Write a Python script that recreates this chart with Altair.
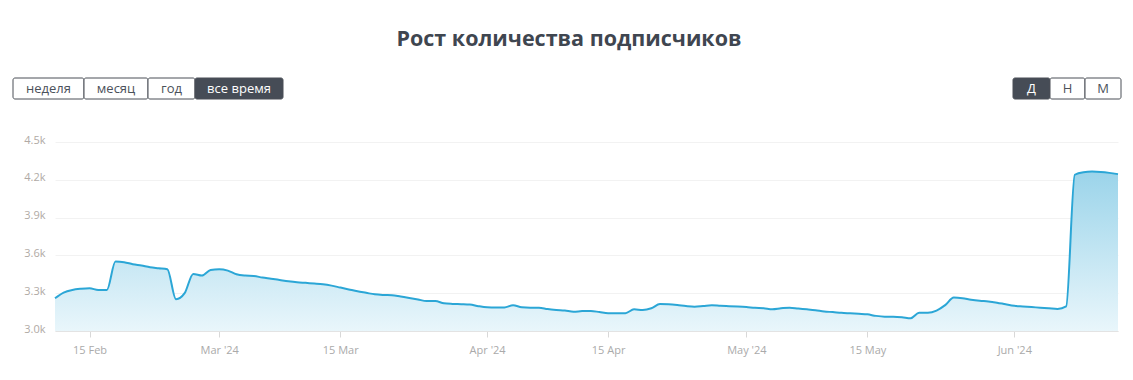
import altair as alt
import pandas as pd

# ---- data -------------------------------------------------------------
start_date = "2024-02-11"
subscribers = [
    3260, 3305, 3326, 3335, 3339, 3326, 3326, 3551, 3546, 3530,
    3519, 3506, 3498, 3490, 3252, 3300, 3453, 3440, 3485, 3490,
    3479, 3450, 3440, 3437, 3424, 3415, 3405, 3395, 3387, 3382,
    3377, 3371, 3360, 3345, 3330, 3315, 3303, 3291, 3286, 3284,
    3273, 3262, 3250, 3238, 3238, 3220, 3215, 3213, 3210, 3197,
    3188, 3186, 3187, 3204, 3188, 3185, 3185, 3174, 3167, 3162,
    3153, 3158, 3159, 3150, 3141, 3141, 3141, 3172, 3167, 3180,
    3214, 3212, 3206, 3198, 3193, 3198, 3204, 3200, 3197, 3194,
    3190, 3184, 3181, 3173, 3180, 3185, 3178, 3172, 3165, 3155,
    3150, 3144, 3140, 3136, 3132, 3120, 3114, 3114, 3110, 3101,
    3145, 3145, 3162, 3205, 3265, 3260, 3248, 3240, 3235, 3225,
    3212, 3200, 3195, 3190, 3185, 3180, 3175, 3195, 4240, 4260,
    4265, 4262, 4255, 4245,
]
dates = pd.date_range(start_date, periods=len(subscribers), freq="D").strftime("%Y-%m-%d")

x_tick_dates = [(2024, 2, 15), (2024, 3, 1), (2024, 3, 15), (2024, 4, 1),
                (2024, 4, 15), (2024, 5, 1), (2024, 5, 15), (2024, 6, 1)]
y_ticks = [3000, 3300, 3600, 3900, 4200, 4500]
y_min, y_max = 3000, 4500

title_text = "Рост количества подписчиков"
period_buttons = ["неделя", "месяц", "год", "все время"]
period_active = "все время"
scale_buttons = ["Д", "Н", "М"]
scale_active = "Д"

# ---- layout (pixels, relative to plot origin) -----------------------
period_edges = [-42, 29, 93, 140, 228]
scale_edges = [958, 995, 1030, 1066]
btn_top, btn_bottom = -64, -43

df = pd.DataFrame({"date": dates, "value": subscribers})

FONT = "Open Sans"
LINE = "#2ba6d6"

x_enc = alt.X(
    "date:T",
    scale=alt.Scale(type="utc", domain=[dates[0], dates[-1]], nice=False),
    axis=alt.Axis(
        title=None,
        values=[alt.DateTime(year=y, month=m, date=d, utc=True) for y, m, d in x_tick_dates],
        labelExpr="utcFormat(datum.value, '%d') == '01' ? utcFormat(datum.value, \"%b '%y\") : utcFormat(datum.value, '%d %b')",
        grid=False,
        domain=True,
        domainColor="#e3e3e3",
        tickColor="#d8d8d8",
        tickSize=6,
        labelPadding=7,
        labelColor="#aaaaaa",
        labelFontSize=11,
        labelFont=FONT,
    ),
)
y_enc = alt.Y(
    "value:Q",
    scale=alt.Scale(domain=[y_min, y_max], nice=False, zero=False),
    axis=alt.Axis(
        title=None,
        values=y_ticks,
        labelExpr="format(datum.value / 1000, '.1f') + 'k'",
        grid=True,
        gridColor="#f2f2f2",
        domain=False,
        ticks=False,
        labelPadding=10,
        labelOffset=-2,
        labelColor="#b0aaa5",
        labelFontSize=11,
        labelFont=FONT,
    ),
)

area = alt.Chart(df).mark_area(
    interpolate="monotone",
    color=alt.Gradient(
        gradient="linear",
        stops=[alt.GradientStop(color="#9bd4ea", offset=0),
               alt.GradientStop(color="#e9f6fb", offset=1)],
        x1=1, x2=1, y1=0, y2=1,
    ),
).encode(x=x_enc, y=y_enc, y2=alt.datum(y_min))

line = alt.Chart(df).mark_line(
    interpolate="monotone", color=LINE, strokeWidth=2
).encode(x=x_enc, y=y_enc)

series = alt.layer(area, line)

# ---- buttons ---------------------------------------------------------
rows = []
for labels, edges, active in [(period_buttons, period_edges, period_active),
                              (scale_buttons, scale_edges, scale_active)]:
    for i, lab in enumerate(labels):
        rows.append({
            "label": lab,
            "x0": edges[i], "x1": edges[i + 1],
            "xc": (edges[i] + edges[i + 1]) / 2,
            "y0": btn_top, "y1": btn_bottom,
            "yc": (btn_top + btn_bottom) / 2,
            "active": lab == active,
        })
bdf = pd.DataFrame(rows)

btn_rects = alt.Chart(bdf).mark_rect(stroke="#4a4f57", strokeWidth=1, cornerRadius=2).encode(
    x=alt.X("x0:Q", scale=None), x2="x1:Q",
    y=alt.Y("y0:Q", scale=None), y2="y1:Q",
    fill=alt.condition("datum.active", alt.value("#464c56"), alt.value("#ffffff")),
)
btn_text = alt.Chart(bdf).mark_text(font=FONT, fontSize=13, baseline="middle", align="center").encode(
    x=alt.X("xc:Q", scale=None),
    y=alt.Y("yc:Q", scale=None),
    text="label:N",
    color=alt.condition("datum.active", alt.value("#ffffff"), alt.value("#4b515a")),
)

title = alt.Chart(pd.DataFrame({"t": [title_text]})).mark_text(
    font=FONT, fontSize=21.5, fontWeight="bold", color="#3f4650", align="center", baseline="middle"
).encode(x=alt.value(514), y=alt.value(-102), text="t:N")

chart = alt.layer(series, btn_rects, btn_text, title).resolve_scale(
    x="independent", y="independent"
).properties(
    width=1063, height=189,
    autosize=alt.AutoSizeParams(type="none"),
    padding={"left": 47, "top": 134, "right": 7, "bottom": 41},
).configure_view(stroke=None)

chart.save("out.html", embed_options={"renderer": "svg", "actions": False})
